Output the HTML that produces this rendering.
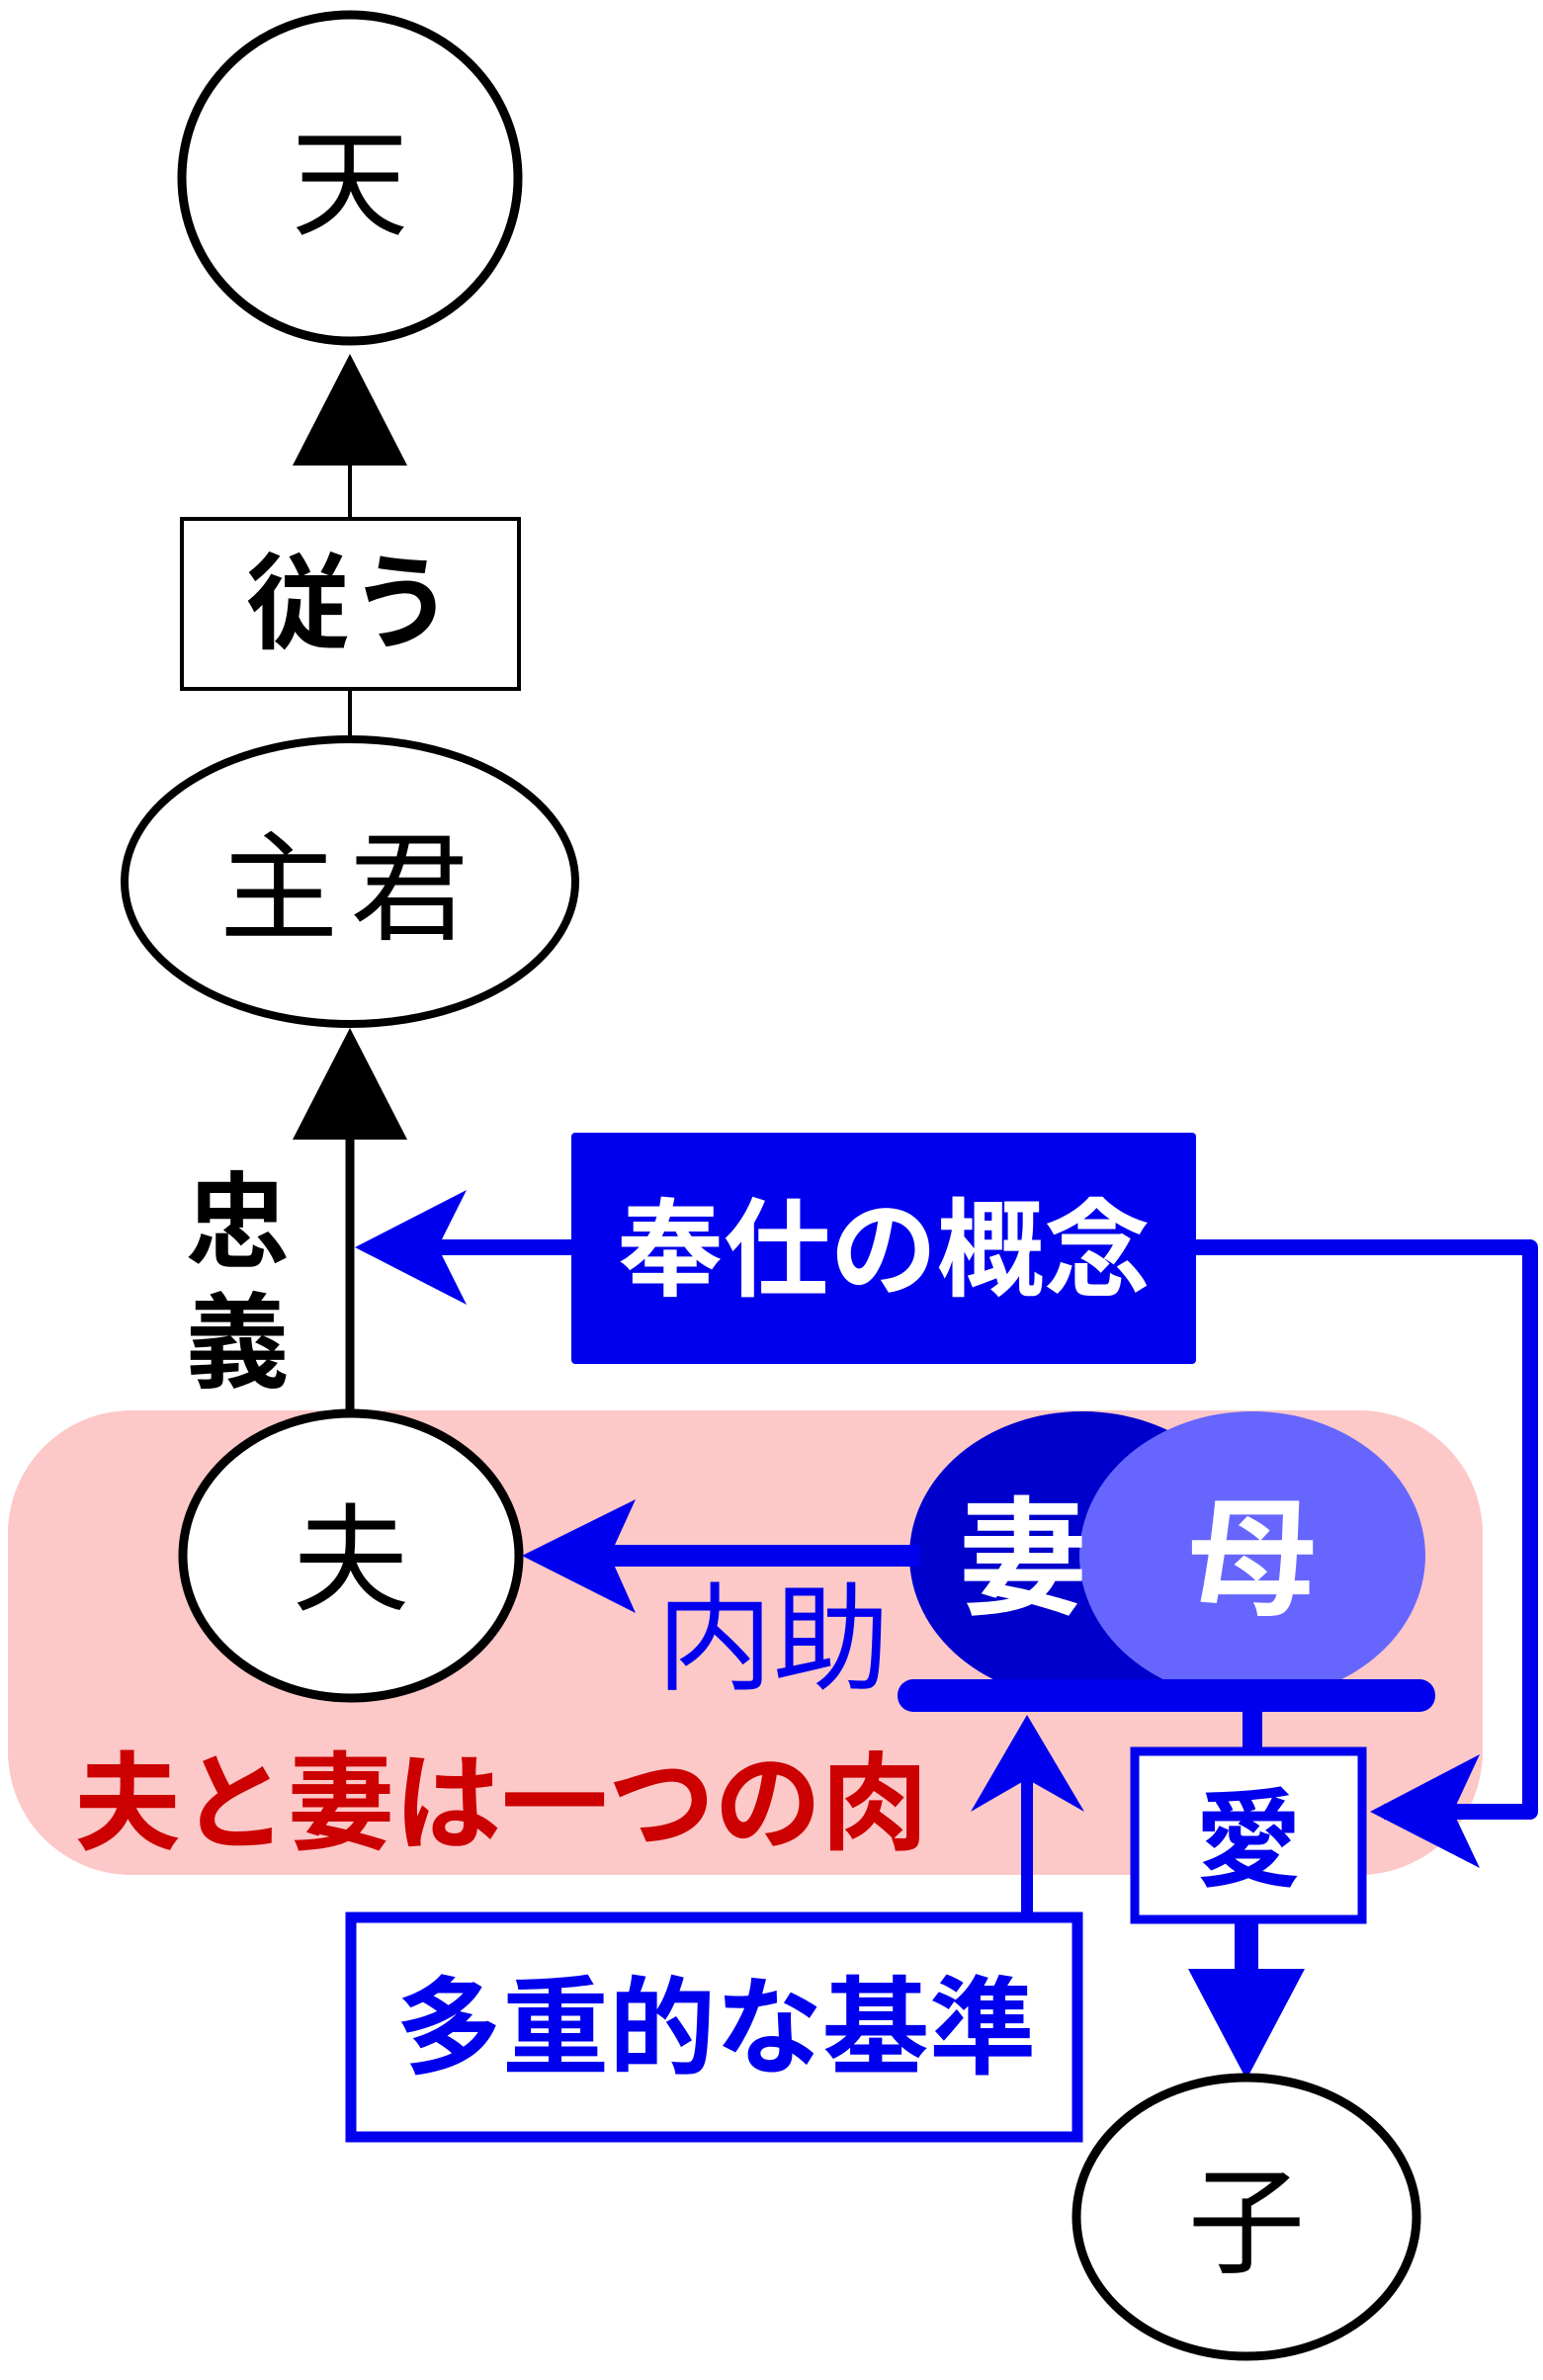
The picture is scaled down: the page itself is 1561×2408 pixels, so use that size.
<!DOCTYPE html>
<html><head><meta charset="utf-8"><style>
html,body{margin:0;padding:0;background:#fff}
svg{display:block}
text{font-family:"Liberation Sans","Noto Sans CJK JP",sans-serif;text-anchor:middle;dominant-baseline:central}
</style></head><body>
<svg width="1561" height="2408" viewBox="0 0 1561 2408" xmlns="http://www.w3.org/2000/svg">
<rect x="8" y="1427" width="1492" height="470" rx="125" ry="125" fill="#fcc8c8"/>
<ellipse cx="354" cy="180" rx="170" ry="165" fill="#fff" stroke="#000" stroke-width="9"/>
<text x="354" y="188" font-size="118">天</text>
<polygon points="354,358 296,471 412,471" fill="#000"/>
<line x1="354" y1="470" x2="354" y2="525" stroke="#000" stroke-width="4"/>
<rect x="184" y="525" width="341" height="172" fill="#fff" stroke="#000" stroke-width="4"/>
<text x="354" y="612" font-size="105" font-weight="bold">従う</text>
<line x1="354" y1="697" x2="354" y2="748" stroke="#000" stroke-width="4"/>
<ellipse cx="354" cy="892" rx="228" ry="144" fill="#fff" stroke="#000" stroke-width="8"/>
<text x="354" y="900" font-size="120" letter-spacing="12">主君</text>
<polygon points="354,1040 296,1153 412,1153" fill="#000"/>
<line x1="354" y1="1150" x2="354" y2="1430" stroke="#000" stroke-width="9"/>
<text x="240" y="1238" font-size="105" font-weight="bold">忠</text>
<text x="240" y="1360" font-size="105" font-weight="bold">義</text>
<rect x="578" y="1146" width="632" height="234" rx="4" fill="#0000ee"/>
<text x="894" y="1265" font-size="108" font-weight="bold" fill="#fff">奉仕の概念</text>
<polyline points="1210,1262 1548,1262 1548,1833 1400,1833" fill="none" stroke="#0000ee" stroke-width="16" stroke-linejoin="round"/>
<line x1="578" y1="1262" x2="440" y2="1262" stroke="#0000ee" stroke-width="16"/>
<polygon points="359,1262 472,1204 443,1262 472,1320" fill="#0000ee"/>
<polygon points="1386,1833 1497,1775 1470,1833 1497,1890" fill="#0000ee"/>
<ellipse cx="355" cy="1574" rx="170" ry="144" fill="#fff" stroke="#000" stroke-width="9"/>
<text x="355" y="1580" font-size="118">夫</text>
<ellipse cx="1095" cy="1574" rx="175" ry="146" fill="#0000cc"/>
<ellipse cx="1267" cy="1574" rx="175" ry="146" fill="#6666ff"/>
<text x="1035" y="1578" font-size="130" font-weight="bold" fill="#fff">妻</text>
<text x="1267" y="1578" font-size="130" font-weight="bold" fill="#fff">母</text>
<line x1="930" y1="1574" x2="610" y2="1574" stroke="#0000ee" stroke-width="22"/>
<polygon points="528,1574 643,1517 617,1574 643,1632" fill="#0000ee"/>
<text x="782" y="1660" font-size="118" fill="#0000ee">内助</text>
<rect x="908" y="1699" width="544" height="33" rx="16" fill="#0000ee"/>
<line x1="1267" y1="1730" x2="1267" y2="1770" stroke="#0000ee" stroke-width="20"/>
<rect x="1148" y="1772" width="230" height="170" fill="#fff" stroke="#0000ee" stroke-width="9"/>
<text x="1263" y="1862" font-size="108" font-weight="bold" fill="#0000ee">愛</text>
<line x1="1039" y1="1800" x2="1039" y2="1945" stroke="#0000ee" stroke-width="12"/>
<polygon points="1039,1735 1097,1833 1039,1800 982,1833" fill="#0000ee"/>
<text x="507" y="1825" font-size="108" font-weight="bold" fill="#cc0000">夫と妻は一つの肉</text>
<rect x="355" y="1940" width="735" height="222" fill="#fff" stroke="#0000ee" stroke-width="11"/>
<text x="724" y="2052" font-size="108" font-weight="bold" fill="#0000ee">多重的な基準</text>
<line x1="1261" y1="1945" x2="1261" y2="1995" stroke="#0000ee" stroke-width="24"/>
<polygon points="1202,1992 1320,1992 1261,2104" fill="#0000ee"/>
<ellipse cx="1261" cy="2243" rx="172" ry="141" fill="#fff" stroke="#000" stroke-width="9"/>
<text x="1261" y="2250" font-size="118">子</text>
</svg>
</body></html>
